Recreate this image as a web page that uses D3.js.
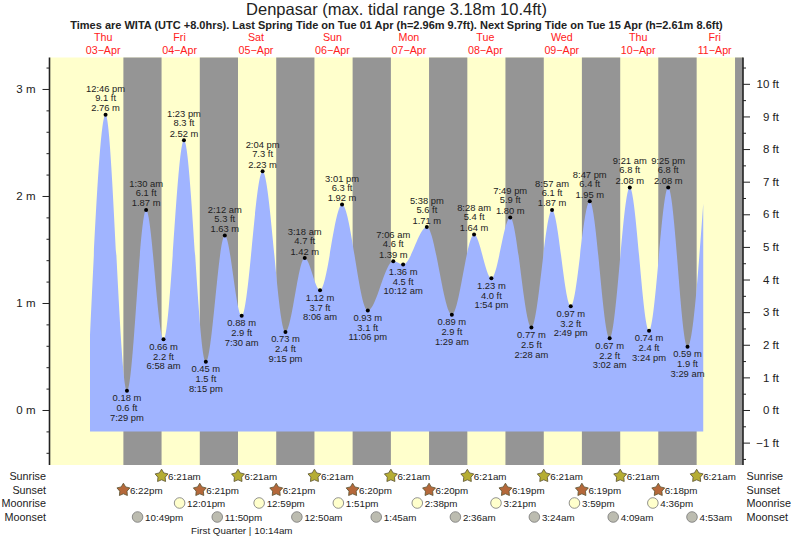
<!DOCTYPE html>
<html>
<head>
<meta charset="utf-8">
<style>
	html, body { margin: 0; padding: 0; background: #fff; }
	svg { display: block; font-family: "Liberation Sans", Arial, sans-serif; }
	text { fill: #222; }
</style>
<script src="https://cdn.jsdelivr.net/npm/d3@7"></script>
</head>
<body>
<div id="chart"></div>
<script>
var width = 793,
	height = 539;

var YEAR = '2025-';

// high and low waters, as printed on the chart
var tideTimes = [
	'04-03 12:46 pm', '04-03 7:29 pm',
	'04-04 1:30 am', '04-04 6:58 am', '04-04 1:23 pm', '04-04 8:15 pm',
	'04-05 2:12 am', '04-05 7:30 am', '04-05 2:04 pm', '04-05 9:15 pm',
	'04-06 3:18 am', '04-06 8:06 am', '04-06 3:01 pm', '04-06 11:06 pm',
	'04-07 7:06 am', '04-07 10:12 am', '04-07 5:38 pm',
	'04-08 1:29 am', '04-08 8:28 am', '04-08 1:54 pm', '04-08 7:49 pm',
	'04-09 2:28 am', '04-09 8:57 am', '04-09 2:49 pm', '04-09 8:47 pm',
	'04-10 3:02 am', '04-10 9:21 am', '04-10 3:24 pm', '04-10 9:25 pm',
	'04-11 3:29 am'
];
var tideMetres = [
	2.76, 0.18,
	1.87, 0.66, 2.52, 0.45,
	1.63, 0.88, 2.23, 0.73,
	1.42, 1.12, 1.92, 0.93,
	1.39, 1.36, 1.71,
	0.89, 1.64, 1.23, 1.80,
	0.77, 1.87, 0.97, 1.95,
	0.67, 2.08, 0.74, 2.08,
	0.59
];
var tideFeet = [
	'9.1', '0.6',
	'6.1', '2.2', '8.3', '1.5',
	'5.3', '2.9', '7.3', '2.4',
	'4.7', '3.7', '6.3', '3.1',
	'4.6', '4.5', '5.6',
	'2.9', '5.4', '4.0', '5.9',
	'2.5', '6.1', '3.2', '6.4',
	'2.2', '6.8', '2.4', '6.8',
	'1.9'
];

// ends of the filled curve
var curveStart = { time: '04-03 7:53 am', metres: 0.70 };
var curveEnd = { time: '04-11 8:25 am', metres: 1.93 };
var baseMetres = -0.2;

var dayNames = ['Thu', 'Fri', 'Sat', 'Sun', 'Mon', 'Tue', 'Wed', 'Thu', 'Fri'];
var dayDates = ['03', '04', '05', '06', '07', '08', '09', '10', '11'];

var sunsets = ['04-03 6:22 pm', '04-04 6:21 pm', '04-05 6:21 pm', '04-06 6:20 pm', '04-07 6:20 pm', '04-08 6:19 pm', '04-09 6:19 pm', '04-10 6:18 pm', '04-11 6:24 pm'];
var sunrises = ['04-04 6:21 am', '04-05 6:21 am', '04-06 6:21 am', '04-07 6:21 am', '04-08 6:21 am', '04-09 6:21 am', '04-10 6:21 am', '04-11 6:21 am'];
var moonrises = ['04-04 12:01 pm', '04-05 12:59 pm', '04-06 1:51 pm', '04-07 2:38 pm', '04-08 3:21 pm', '04-09 3:59 pm', '04-10 4:36 pm'];
var moonsets = ['04-03 10:49 pm', '04-04 11:50 pm', '04-06 12:50 am', '04-07 1:45 am', '04-08 2:36 am', '04-09 3:24 am', '04-10 4:09 am', '04-11 4:53 am'];
var quarterTime = '04-05 10:14 am';

var metreTicks = [0, 1, 2, 3];
var metreMinorTicks = [-0.4, -0.2, 0.2, 0.4, 0.6, 0.8, 1.2, 1.4, 1.6, 1.8, 2.2, 2.4, 2.6, 2.8, 3.2];
var feetTicks = [-1, 0, 1, 2, 3, 4, 5, 6, 7, 8, 9, 10];
var feetMinorTicks = [-1.5, -0.5, 0.5, 1.5, 2.5, 3.5, 4.5, 5.5, 6.5, 7.5, 8.5, 9.5, 10.5];

var parseTime = d3.utcParse('%Y-%m-%d %I:%M %p');
function toDate(s) {
	return parseTime(YEAR + s);
}
// '04-03 12:46 pm' -> '12:46 pm'
function clock(s) {
	return s.slice(6);
}
function compactClock(s) {
	return clock(s).replace(' ', '');
}

var plot = { left: 49.5, right: 743, top: 57.5, bottom: 465 };

var x = d3.scaleUtc()
	.domain([toDate('04-02 7:10 pm'), toDate('04-11 8:54 pm')])
	.range([plot.left, plot.right]);

var y = d3.scaleLinear()
	.domain([-0.514, 3.294])
	.range([plot.bottom, plot.top]);

var yFeet = d3.scaleLinear()
	.domain([-0.514 / 0.3048, 3.294 / 0.3048])
	.range([plot.bottom, plot.top]);

var svg = d3.select('#chart').append('svg')
	.attr('width', width)
	.attr('height', height);

// day and night bands
svg.append('rect')
	.attr('x', plot.left)
	.attr('y', plot.top)
	.attr('width', plot.right - plot.left)
	.attr('height', plot.bottom - plot.top)
	.style('fill', '#ffffcc');

svg.append('g')
	.selectAll('rect')
	.data(sunsets)
	.enter()
	.append('rect')
	.attr('x', function(d) { return x(toDate(d)); })
	.attr('y', plot.top)
	.attr('width', function(d, i) {
		var end = i < sunrises.length ? x(toDate(sunrises[i])) : plot.right;
		return end - x(toDate(d));
	})
	.attr('height', plot.bottom - plot.top)
	.style('fill', '#959595');

// tide curve
var tidePoints = tideTimes.map(function(t, i) {
	return { time: t, metres: tideMetres[i], feet: tideFeet[i] };
});

var curvePoints = [curveStart].concat(tidePoints, [curveEnd]);

var area = d3.area()
	.x(function(d) { return x(toDate(d.time)); })
	.y0(y(baseMetres))
	.y1(function(d) { return y(d.metres); })
	.curve(d3.curveMonotoneX);

svg.append('path')
	.datum(curvePoints)
	.attr('d', area)
	.style('fill', '#a0b4ff');

// axes
function styleAxis(g) {
	g.selectAll('.domain').remove();
	g.selectAll('line').style('stroke', '#222').style('stroke-width', 1);
	g.selectAll('text').style('font-size', '11.5px').style('fill', '#222').style('font-family', 'inherit');
}

svg.append('g')
	.attr('transform', 'translate(' + plot.left + ',0)')
	.call(d3.axisLeft(y).tickValues(metreTicks).tickSize(7).tickPadding(7)
		.tickFormat(function(d) { return d + ' m'; }))
	.call(styleAxis);

svg.append('g')
	.attr('transform', 'translate(' + plot.left + ',0)')
	.call(d3.axisLeft(y).tickValues(metreMinorTicks).tickSize(3).tickFormat(''))
	.call(styleAxis);

svg.append('g')
	.attr('transform', 'translate(' + plot.right + ',0)')
	.call(d3.axisRight(yFeet).tickValues(feetTicks).tickSize(7).tickPadding(14)
		.tickFormat(function(d) { return (d < 0 ? '\u2212' + (-d) : d) + ' ft'; }))
	.call(styleAxis)
	.selectAll('text')
	.attr('x', 36)
	.style('text-anchor', 'end');

svg.append('g')
	.attr('transform', 'translate(' + plot.right + ',0)')
	.call(d3.axisRight(yFeet).tickValues(feetMinorTicks).tickSize(3).tickFormat(''))
	.call(styleAxis);

[plot.left, plot.right].forEach(function(ax) {
	svg.append('line')
		.attr('x1', ax)
		.attr('x2', ax)
		.attr('y1', plot.top)
		.attr('y2', plot.bottom)
		.style('stroke', '#222')
		.style('stroke-width', 1.6);
});

// tide dots and labels
var tideGroup = svg.append('g')
	.selectAll('g')
	.data(tidePoints)
	.enter()
	.append('g')
	.attr('transform', function(d) {
		return 'translate(' + x(toDate(d.time)) + ',' + y(d.metres) + ')';
	});

tideGroup.append('circle')
	.attr('r', 2)
	.style('fill', '#000');

function isHigh(i) {
	var next = tideMetres[i + 1],
		prev = tideMetres[i - 1];
	return next !== undefined ? tideMetres[i] > next : tideMetres[i] > prev;
}

var labelLines = [
	{ high: -3.5, low: 10.5, text: function(d) { return d.metres.toFixed(2) + ' m'; } },
	{ high: -14, low: 20.5, text: function(d) { return d.feet + ' ft'; } },
	{ high: -23, low: 30, text: function(d) { return clock(d.time); } }
];

labelLines.forEach(function(line) {
	tideGroup.append('text')
		.attr('y', function(d, i) { return isHigh(i) ? line.high : line.low; })
		.attr('text-anchor', 'middle')
		.style('font-size', '9.4px')
		.text(line.text);
});

// header
svg.append('text')
	.attr('x', 396.5)
	.attr('y', 15)
	.attr('text-anchor', 'middle')
	.style('font-size', '16.5px')
	.text('Denpasar (max. tidal range 3.18m 10.4ft)');

svg.append('text')
	.attr('x', 396.5)
	.attr('y', 29)
	.attr('text-anchor', 'middle')
	.style('font-size', '11px')
	.style('font-weight', 'bold')
	.text('Times are WITA (UTC +8.0hrs). Last Spring Tide on Tue 01 Apr (h=2.96m 9.7ft). Next Spring Tide on Tue 15 Apr (h=2.61m 8.6ft)');

var dayLabels = svg.append('g')
	.selectAll('g')
	.data(dayDates)
	.enter()
	.append('g')
	.attr('transform', function(d) {
		return 'translate(' + x(toDate('04-' + d + ' 12:00 pm')) + ',0)';
	});

dayLabels.append('text')
	.attr('y', 41)
	.attr('text-anchor', 'middle')
	.style('font-size', '10.7px')
	.style('fill', '#ff2020')
	.text(function(d, i) { return dayNames[i]; });

dayLabels.append('text')
	.attr('y', 54)
	.attr('text-anchor', 'middle')
	.style('font-size', '10.7px')
	.style('fill', '#ff2020')
	.text(function(d) { return d + '\u2212Apr'; });

// sun and moon rows
var rows = [
	{ name: 'Sunrise', y: 476, times: sunrises, fill: '#b5ad33', star: true },
	{ name: 'Sunset', y: 490, times: sunsets.slice(0, 8), fill: '#b5683a', star: true },
	{ name: 'Moonrise', y: 503, times: moonrises, fill: '#ffffcc', star: false },
	{ name: 'Moonset', y: 517, times: moonsets, fill: '#bcbcb0', star: false }
];

// fat five pointed star
var starPath = d3.lineRadial()
	.angle(function(d, i) { return i * Math.PI / 5; })
	.radius(function(d) { return d; })
	.curve(d3.curveLinearClosed)([6.8, 3.8, 6.8, 3.8, 6.8, 3.8, 6.8, 3.8, 6.8, 3.8]);

rows.forEach(function(row) {
	svg.append('text')
		.attr('x', 46)
		.attr('y', row.y + 3.5)
		.attr('text-anchor', 'end')
		.style('font-size', '10.8px')
		.text(row.name);

	svg.append('text')
		.attr('x', 746.5)
		.attr('y', row.y + 3.5)
		.style('font-size', '10.8px')
		.text(row.name);

	var marks = svg.append('g')
		.selectAll('g')
		.data(row.times)
		.enter()
		.append('g')
		.attr('transform', function(d) {
			return 'translate(' + x(toDate(d)) + ',' + row.y + ')';
		});

	if (row.star) {
		marks.append('path')
			.attr('d', starPath)
			.style('fill', row.fill)
			.style('stroke', '#5a5230')
			.style('stroke-width', 0.8);
	} else {
		marks.append('circle')
			.attr('r', 5.3)
			.style('fill', row.fill)
			.style('stroke', '#777')
			.style('stroke-width', 0.8);
	}

	marks.append('text')
		.attr('x', row.star ? 6.5 : 7.5)
		.attr('y', 4)
		.style('font-size', '9.8px')
		.text(function(d) { return compactClock(d); });
});

// moon phase
var quarterX = x(toDate(quarterTime));

svg.append('text')
	.attr('x', quarterX + 1)
	.attr('y', 534)
	.attr('text-anchor', 'end')
	.style('font-size', '9.8px')
	.text('First Quarter |');

svg.append('text')
	.attr('x', quarterX + 4)
	.attr('y', 533.5)
	.style('font-size', '9.8px')
	.text(compactClock(quarterTime));
</script>
</body>
</html>
